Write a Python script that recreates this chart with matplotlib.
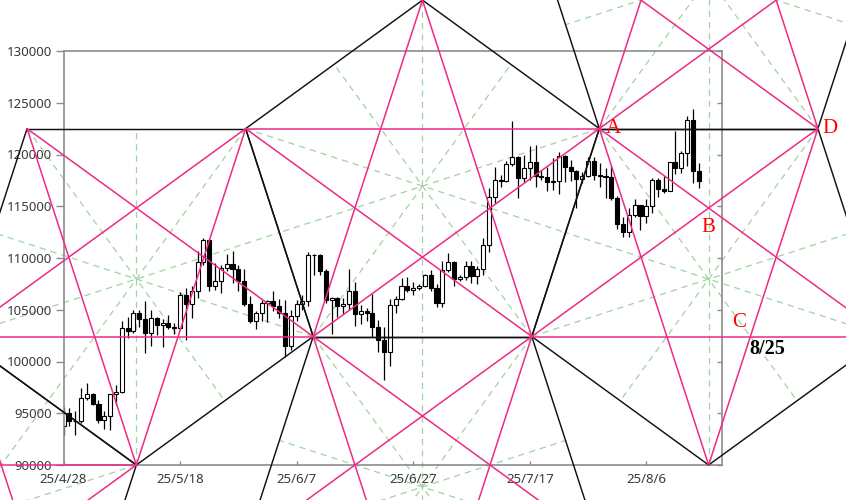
import numpy as np
import matplotlib
matplotlib.use("Agg")
import matplotlib.pyplot as plt

# ---------------- data ----------------
# day index 0 = 2025-04-28 ... 109 = 2025-08-15 (daily candles)
opens = [93750, 94980, 94280, 94210, 96490, 96900, 95890, 94310, 94750, 96830,
         97030, 103250, 102970, 104650, 104100, 102800, 104200, 103500, 103750, 103300,
         103200, 106450, 105600, 106800, 109650, 111700, 107300, 107800, 109000, 109400,
         108900, 107800, 105600, 103950, 104650, 105700, 105800, 105400, 104700, 101500,
         104400, 105600, 105800, 110260, 110290, 108700, 105900, 106100, 105400, 105600,
         106800, 104600, 104900, 104700, 103300, 102100, 100900, 105500, 106000, 107300,
         106900, 107100, 107300, 108400, 107100, 105700, 108800, 109600, 108000, 108200,
         109200, 108300, 108900, 111300, 115900, 117500, 117400, 119100, 119800, 117700,
         118700, 119300, 117900, 117850, 117300, 117400, 119900, 118800, 118400, 117600,
         117900, 119400, 118000, 117900, 117800, 115800, 113300, 112500, 114200, 115100,
         114100, 115000, 117500, 116700, 116500, 119300, 118700, 120100, 123300, 118400]
highs = [95600, 95500, 95200, 97450, 97900, 96950, 96300, 95200, 96900, 97700,
         103900, 104300, 104950, 104950, 105800, 104950, 104300, 104100, 104500, 103700,
         106700, 107100, 107300, 110700, 111980, 111800, 109500, 109300, 110400, 110700,
         109300, 108900, 106300, 104900, 105900, 105950, 106800, 106000, 105900, 105000,
         105900, 106400, 110600, 110400, 110400, 108900, 106200, 106200, 106100, 108900,
         107700, 105500, 105200, 106500, 104000, 103300, 106000, 106300, 108100, 108200,
         107700, 107500, 108500, 108800, 107500, 109700, 110500, 109700, 108400, 109700,
         109700, 109200, 111900, 116800, 118800, 118000, 119400, 123200, 119900, 120000,
         120800, 120900, 118500, 118800, 119700, 120200, 120000, 119500, 118500, 118300,
         119800, 119800, 119200, 118700, 118900, 116000, 114000, 114800, 115700, 115100,
         115700, 117700, 117700, 117900, 119300, 122300, 120300, 123700, 124400, 119200]
lows = [92900, 93800, 92900, 94100, 96300, 95750, 94100, 93500, 93400, 95800,
        96950, 102300, 102800, 103300, 100800, 101500, 102600, 101400, 103100, 102700,
        103100, 102100, 104200, 106150, 109300, 106800, 106900, 106600, 108700, 107600,
        106800, 105400, 103700, 103100, 103900, 103800, 104900, 104200, 100400, 101100,
        103900, 104950, 105400, 108400, 108400, 105700, 102700, 104300, 104600, 105000,
        103400, 103600, 103900, 102400, 100900, 98200, 99600, 104700, 105900, 106700,
        106400, 106900, 107200, 106800, 105300, 105300, 108600, 107300, 107800, 107900,
        107600, 107500, 108400, 110600, 115300, 116900, 117300, 118900, 115800, 117300,
        117500, 116900, 117500, 116500, 116600, 116200, 117300, 117400, 114800, 117200,
        117800, 117500, 116900, 115800, 115600, 112800, 112000, 112000, 114000, 112700,
        113400, 114300, 115900, 116300, 116500, 118100, 118200, 118900, 117200, 116800]
closes = [94980, 94280, 94210, 96490, 96900, 95890, 94310, 94750, 96830, 97030,
          103250, 102970, 104650, 104100, 102800, 104200, 103500, 103750, 103300, 103200,
          106450, 105600, 106800, 109650, 111700, 107300, 107800, 109000, 109400, 108900,
          107800, 105600, 103950, 104650, 105700, 105800, 105400, 104700, 101500, 104400,
          105600, 105800, 110260, 110290, 108700, 105900, 106100, 105400, 105600, 106800,
          104600, 104900, 104700, 103300, 102100, 100900, 105500, 106000, 107300, 106900,
          107100, 107300, 108400, 107100, 105700, 108800, 109600, 108000, 108200, 109200,
          108300, 108900, 111300, 115900, 117500, 117400, 119100, 119800, 117700, 118700,
          119300, 117900, 117850, 117300, 117400, 119900, 118800, 118400, 117600, 117900,
          119400, 118000, 117900, 117800, 115800, 113300, 112500, 114200, 115100, 114100,
          115000, 117500, 116700, 116500, 119300, 118700, 120100, 123300, 118400, 117400]

x_tick_days = [0, 20, 40, 60, 80, 100]
x_tick_labels = ["25/4/28", "25/5/18", "25/6/7", "25/6/27", "25/7/17", "25/8/6"]
y_ticks = [90000, 95000, 100000, 105000, 110000, 115000, 120000, 125000, 130000]

# pentagon construction anchors (data units)
anchor_day = 12.5        # bottom vertex of first pentagon
anchor_price = 90000
edge_price = 122500      # upper edge of first pentagon

point_labels = ["A", "B", "C", "D"]
date_label = "8/25"

# ---------------- figure ----------------
W, H = 846, 500
fig = plt.figure(figsize=(W / 100, H / 100), dpi=100)
ax = fig.add_axes([63.5 / W, 35 / H, (721.5 - 63.5) / W, (465 - 51) / H])
ax.set_xlim(0, 112.9)
ax.set_ylim(90000, 130000)

GRID_C = "#9fd49f"
PINK = "#ee2a86"
BLACK = "#111111"

# candles
x = np.arange(len(closes))
o = np.array(opens, float); c = np.array(closes, float)
h = np.array(highs, float); l = np.array(lows, float)
ax.vlines(x, l, h, color="black", lw=0.9, zorder=2)
bottom = np.minimum(o, c)
height = np.maximum(np.abs(c - o), 60)
colors = ["white" if cc >= oo else "black" for oo, cc in zip(o, c)]
ax.bar(x, height, bottom=bottom, width=0.7, color=colors, edgecolor="black",
       linewidth=0.8, zorder=2.2)

# ---------------- pentagon overlay ----------------
T = ax.transData
Ti = T.inverted()
B1 = T.transform((anchor_day, anchor_price))
ytop = T.transform((0, edge_price))[1]
R = (ytop - B1[1]) / (1 + np.sin(np.radians(54)))
cen = np.array([B1[0], B1[1] + R])
ang = np.radians(-90 + 72 * np.arange(5))
U1 = cen + R * np.column_stack([np.cos(ang), np.sin(ang)])


def reflect(P, i, j):
    m = (P[i] + P[j]) / 2
    return 2 * m - P


U2 = reflect(U1, 1, 2)
U3 = reflect(U2, 3, 4)
U2b = reflect(U2, 2, 3)
U1b = reflect(U1, 4, 0)
U3b = reflect(U3, 2, 3)
pentas = [U1, U2, U3, U2b, U1b, U3b]


def seg(p, q, **kw):
    d = Ti.transform(np.array([p, q]))
    ax.plot(d[:, 0], d[:, 1], clip_on=False, solid_capstyle="round", **kw)


for P in pentas:
    for k in range(5):
        mid = (P[(k + 2) % 5] + P[(k + 3) % 5]) / 2
        seg(P[k], mid, color=GRID_C, lw=0.9, ls=(0, (5, 4)), zorder=1)
for P in pentas:
    for k in range(5):
        seg(P[k], P[(k + 1) % 5], color=BLACK, lw=1.05, zorder=4)
for P in pentas:
    for k in range(5):
        seg(P[k], P[(k + 2) % 5], color=PINK, lw=1.1, zorder=4.1)


def inter(p1, p2, p3, p4):
    d1 = p2 - p1; d2 = p4 - p3
    A = np.array([d1, -d2]).T
    t = np.linalg.solve(A, p3 - p1)
    return p1 + t[0] * d1


ptA = U3[3]; ptD = U3[2]
ptB = inter(U3[1], U3[3], U3[2], U3[4])
ptC = inter(U3[0], U3[2], U3[4], U3[1])
lab_kw = dict(color="red", fontsize=15, family="Liberation Serif",
              xycoords="data", textcoords="offset points", zorder=6,
              annotation_clip=False)
ax.annotate(point_labels[0], Ti.transform(ptA), xytext=(5, 0), ha="left", va="center", **lab_kw)
ax.annotate(point_labels[1], Ti.transform(ptB), xytext=(0, -14), ha="center", va="center", **lab_kw)
ax.annotate(point_labels[2], Ti.transform(ptC), xytext=(-8, 10), ha="center", va="center", **lab_kw)
ax.annotate(point_labels[3], Ti.transform(ptD), xytext=(3.5, 0), ha="left", va="center", **lab_kw)
ax.annotate(date_label, Ti.transform(ptC), xytext=(-0.5, -9), ha="left", va="center",
            xycoords="data", textcoords="offset points", fontsize=14.5,
            family="Liberation Serif", fontweight="bold", color="black",
            zorder=6, annotation_clip=False)

# ---------------- axes styling ----------------
for s in ax.spines.values():
    s.set_color("#8c8c8c")
    s.set_linewidth(1.2)
ax.set_yticks(y_ticks)
ax.set_yticklabels([str(v) for v in y_ticks])
ax.set_xticks(x_tick_days)
ax.set_xticklabels(x_tick_labels)
ax.tick_params(axis="y", which="both", left=True, right=True, direction="out",
               length=6, width=1, color="#8c8c8c", labelsize=9.5,
               labelcolor="#3a3a3a", pad=2.5)
ax.tick_params(axis="y", right=True, labelright=False)
ax.tick_params(axis="x", direction="in", length=3, width=1, color="#8c8c8c",
               labelsize=9.5, labelcolor="#3a3a3a", pad=6)
for t in ax.get_xticklabels() + ax.get_yticklabels():
    t.set_family("Noto Sans")
# inward ticks on the right side
for tick in ax.yaxis.get_major_ticks():
    tick.tick2line.set_marker(matplotlib.lines.TICKLEFT)
    tick.tick2line.set_markersize(3.6)

fig.savefig("out.png", dpi=100, facecolor="white")
